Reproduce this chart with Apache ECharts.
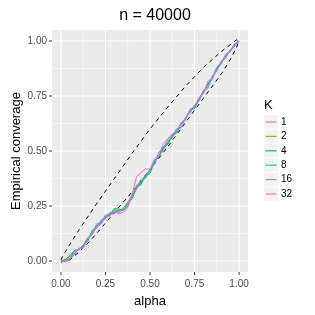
<!DOCTYPE html>
<html>
<head>
<meta charset="utf-8">
<script src="https://cdn.jsdelivr.net/npm/echarts@6/dist/echarts.min.js"></script>
<style>
html,body{margin:0;padding:0;background:#fff;}
#c{width:315px;height:315px;}
</style>
</head>
<body>
<div id="c"></div>
<script>
// ---- data ----
var titleText = 'n = 40000';
var xTitle = 'alpha';
var yTitle = 'Empirical converage';
var legendTitle = 'K';
var kLabels = ['1', '2', '4', '8', '16', '32'];
var kColors = ['#F8766D', '#B79F00', '#00BA38', '#00BFC4', '#619CFF', '#F564E3'];
var tickValues = [0, 0.25, 0.5, 0.75, 1];
var tickLabels = ['0.00', '0.25', '0.50', '0.75', '1.00'];

var alpha = [0, 0.025, 0.05, 0.075, 0.1, 0.125, 0.15, 0.175, 0.2, 0.225,
             0.25, 0.275, 0.3, 0.325, 0.35, 0.375, 0.4, 0.425, 0.45, 0.475,
             0.5, 0.525, 0.55, 0.575, 0.6, 0.625, 0.65, 0.675, 0.7, 0.725,
             0.75, 0.775, 0.8, 0.825, 0.85, 0.875, 0.9, 0.925, 0.95, 0.975, 1];

var cov1 = [0, 0.002, 0.012, 0.040, 0.050, 0.070, 0.090, 0.132, 0.148, 0.176,
            0.192, 0.218, 0.220, 0.226, 0.230, 0.246, 0.296, 0.326, 0.360, 0.376,
            0.410, 0.440, 0.484, 0.502, 0.542, 0.560, 0.596, 0.608, 0.654, 0.674,
            0.706, 0.726, 0.776, 0.790, 0.842, 0.862, 0.910, 0.924, 0.960, 0.976, 1];
var cov2 = [0, 0.006, 0.020, 0.030, 0.056, 0.062, 0.102, 0.118, 0.156, 0.168,
            0.204, 0.208, 0.232, 0.228, 0.240, 0.268, 0.300, 0.346, 0.352, 0.392,
            0.408, 0.456, 0.476, 0.518, 0.540, 0.576, 0.588, 0.626, 0.650, 0.684,
            0.700, 0.742, 0.768, 0.806, 0.834, 0.878, 0.896, 0.938, 0.950, 0.986, 1];
var cov3 = [0, 0.008, 0.024, 0.046, 0.052, 0.070, 0.104, 0.126, 0.162, 0.170,
            0.200, 0.212, 0.238, 0.236, 0.232, 0.258, 0.284, 0.336, 0.356, 0.386,
            0.398, 0.452, 0.474, 0.512, 0.530, 0.568, 0.582, 0.624, 0.642, 0.690,
            0.696, 0.734, 0.762, 0.804, 0.832, 0.880, 0.902, 0.932, 0.952, 0.984, 1];
var cov4 = [0, 0.000, 0.010, 0.048, 0.050, 0.072, 0.088, 0.140, 0.154, 0.186,
            0.196, 0.220, 0.218, 0.232, 0.234, 0.262, 0.290, 0.338, 0.346, 0.394,
            0.410, 0.458, 0.480, 0.520, 0.534, 0.572, 0.586, 0.628, 0.646, 0.688,
            0.692, 0.736, 0.766, 0.800, 0.826, 0.872, 0.896, 0.940, 0.954, 0.988, 1];
var cov5 = [0, -0.004, 0.006, 0.030, 0.056, 0.058, 0.098, 0.124, 0.168, 0.176,
            0.210, 0.210, 0.232, 0.220, 0.236, 0.248, 0.300, 0.332, 0.372, 0.378,
            0.416, 0.442, 0.496, 0.514, 0.554, 0.568, 0.602, 0.606, 0.652, 0.672,
            0.710, 0.728, 0.772, 0.786, 0.840, 0.864, 0.904, 0.922, 0.958, 0.974, 1];
var cov6 = [0, 0.000, 0.010, 0.036, 0.058, 0.060, 0.100, 0.120, 0.158, 0.168,
            0.198, 0.204, 0.226, 0.214, 0.222, 0.242, 0.306, 0.384, 0.402, 0.418,
            0.418, 0.464, 0.480, 0.534, 0.556, 0.578, 0.592, 0.626, 0.646, 0.690,
            0.702, 0.744, 0.760, 0.818, 0.830, 0.874, 0.898, 0.936, 0.952, 0.986, 1];
var coverage = [cov1, cov2, cov3, cov4, cov5, cov6];

// dashed envelope
var upperX = [0, 0.02, 0.05, 0.1, 0.15, 0.2, 0.3, 0.4, 0.5, 0.6, 0.7, 0.8, 0.9, 0.95, 0.985, 1];
var upperY = [0.005, 0.035, 0.075, 0.14, 0.2, 0.26, 0.375, 0.49, 0.6, 0.7, 0.795, 0.88, 0.952, 0.983, 1.005, 1.0];
var lowerX = [0, 0.05, 0.1, 0.15, 0.2, 0.3, 0.4, 0.5, 0.6, 0.7, 0.8, 0.9, 0.95, 0.985, 1];
var lowerY = [-0.005, 0.005, 0.04, 0.08, 0.125, 0.22, 0.315, 0.415, 0.52, 0.63, 0.74, 0.85, 0.915, 0.97, 1.0];

// ---- build chart ----
function pairs(xs, ys) { return xs.map(function (x, i) { return [x, ys[i]]; }); }

var font = 'Liberation Sans, Arial, sans-serif';
var series = [];

var panelSeries = {
  type: 'custom', silent: true, data: [0], z: 0,
  renderItem: function (params, api) {
    var children = [];
    var minorVals = [0.125, 0.375, 0.625, 0.875];
    var lo = api.coord([-0.05, -0.05]), hi = api.coord([1.05, 1.05]);
    children.push({ type: 'rect', shape: { x: lo[0], y: hi[1], width: hi[0] - lo[0], height: lo[1] - hi[1] },
      style: { fill: '#EBEBEB' } });
    minorVals.forEach(function (v) {
      var p = api.coord([v, v]);
      children.push({ type: 'line', shape: { x1: p[0], y1: hi[1], x2: p[0], y2: lo[1] }, style: { stroke: '#fff', lineWidth: 0.55 } });
      children.push({ type: 'line', shape: { x1: lo[0], y1: p[1], x2: hi[0], y2: p[1] }, style: { stroke: '#fff', lineWidth: 0.55 } });
    });
    tickValues.forEach(function (v, i) {
      var p = api.coord([v, v]);
      children.push({ type: 'line', shape: { x1: p[0], y1: hi[1], x2: p[0], y2: lo[1] }, style: { stroke: '#fff', lineWidth: 1.1 } });
      children.push({ type: 'line', shape: { x1: lo[0], y1: p[1], x2: hi[0], y2: p[1] }, style: { stroke: '#fff', lineWidth: 1.1 } });
      children.push({ type: 'line', shape: { x1: p[0], y1: lo[1], x2: p[0], y2: lo[1] + 3 }, style: { stroke: '#333', lineWidth: 1 } });
      children.push({ type: 'line', shape: { x1: lo[0] - 3, y1: p[1], x2: lo[0], y2: p[1] }, style: { stroke: '#333', lineWidth: 1 } });
      children.push({ type: 'text', x: p[0], y: lo[1] + 7, style: { text: tickLabels[i], fill: '#4D4D4D', font: '10px ' + font, align: 'center', verticalAlign: 'top' } });
      children.push({ type: 'text', x: lo[0] - 5, y: p[1], style: { text: tickLabels[i], fill: '#4D4D4D', font: '10px ' + font, align: 'right', verticalAlign: 'middle' } });
    });
    return { type: 'group', children: children };
  }
};
series.push(panelSeries);

series.push({
  type: 'line', data: pairs(upperX, upperY), showSymbol: false, silent: true,
  lineStyle: { color: '#000', width: 1, type: [4, 4] }, z: 1
});
series.push({
  type: 'line', data: pairs(lowerX, lowerY), showSymbol: false, silent: true,
  lineStyle: { color: '#000', width: 1, type: [4, 4] }, z: 1
});
kLabels.forEach(function (k, i) {
  series.push({
    name: k, type: 'line', data: pairs(alpha, coverage[i]), showSymbol: false,
    lineStyle: { color: kColors[i], width: 1 }, itemStyle: { color: kColors[i] }, z: 2 + i
  });
});

function axisCommon(name, gap) {
  return {
    type: 'value', min: -0.05, max: 1.05,
    name: name, nameLocation: 'middle', nameGap: gap,
    nameTextStyle: { color: '#000', fontSize: 13, fontFamily: font },
    axisLine: { show: false },
    axisTick: { show: false },
    axisLabel: { show: false },
    splitLine: { show: false }
  };
}

// legend drawn as graphic elements from kLabels / kColors
var legendGraphics = [{ type: 'text', left: 264, top: 99, style: { text: legendTitle, font: '13px ' + font, fill: '#000' } }];
kLabels.forEach(function (k, i) {
  var cy = 122 + i * 14.4;
  legendGraphics.push({ type: 'rect', shape: { x: 264, y: cy - 7, width: 14, height: 14 }, style: { fill: '#F2F2F2', stroke: '#fff', lineWidth: 0.5 } });
  legendGraphics.push({ type: 'line', shape: { x1: 265.5, y1: cy, x2: 276.5, y2: cy }, style: { stroke: kColors[i], lineWidth: 1.1 } });
  legendGraphics.push({ type: 'text', x: 281, y: cy, style: { text: k, font: '10px ' + font, fill: '#000', verticalAlign: 'middle' } });
});

var chart = echarts.init(document.getElementById('c'), null, { renderer: 'canvas' });
chart.setOption({
  animation: false,
  backgroundColor: '#fff',
  title: {
    text: titleText, left: 150, top: 3, textAlign: 'center',
    textStyle: { fontSize: 16, fontWeight: 'normal', color: '#000', fontFamily: font }
  },
  grid: { left: 52, top: 30, width: 196, height: 242, containLabel: false, outerBoundsMode: 'none' },
  xAxis: axisCommon(xTitle, 23),
  yAxis: axisCommon(yTitle, 29),
  graphic: legendGraphics,
  series: series
});
</script>
</body>
</html>
